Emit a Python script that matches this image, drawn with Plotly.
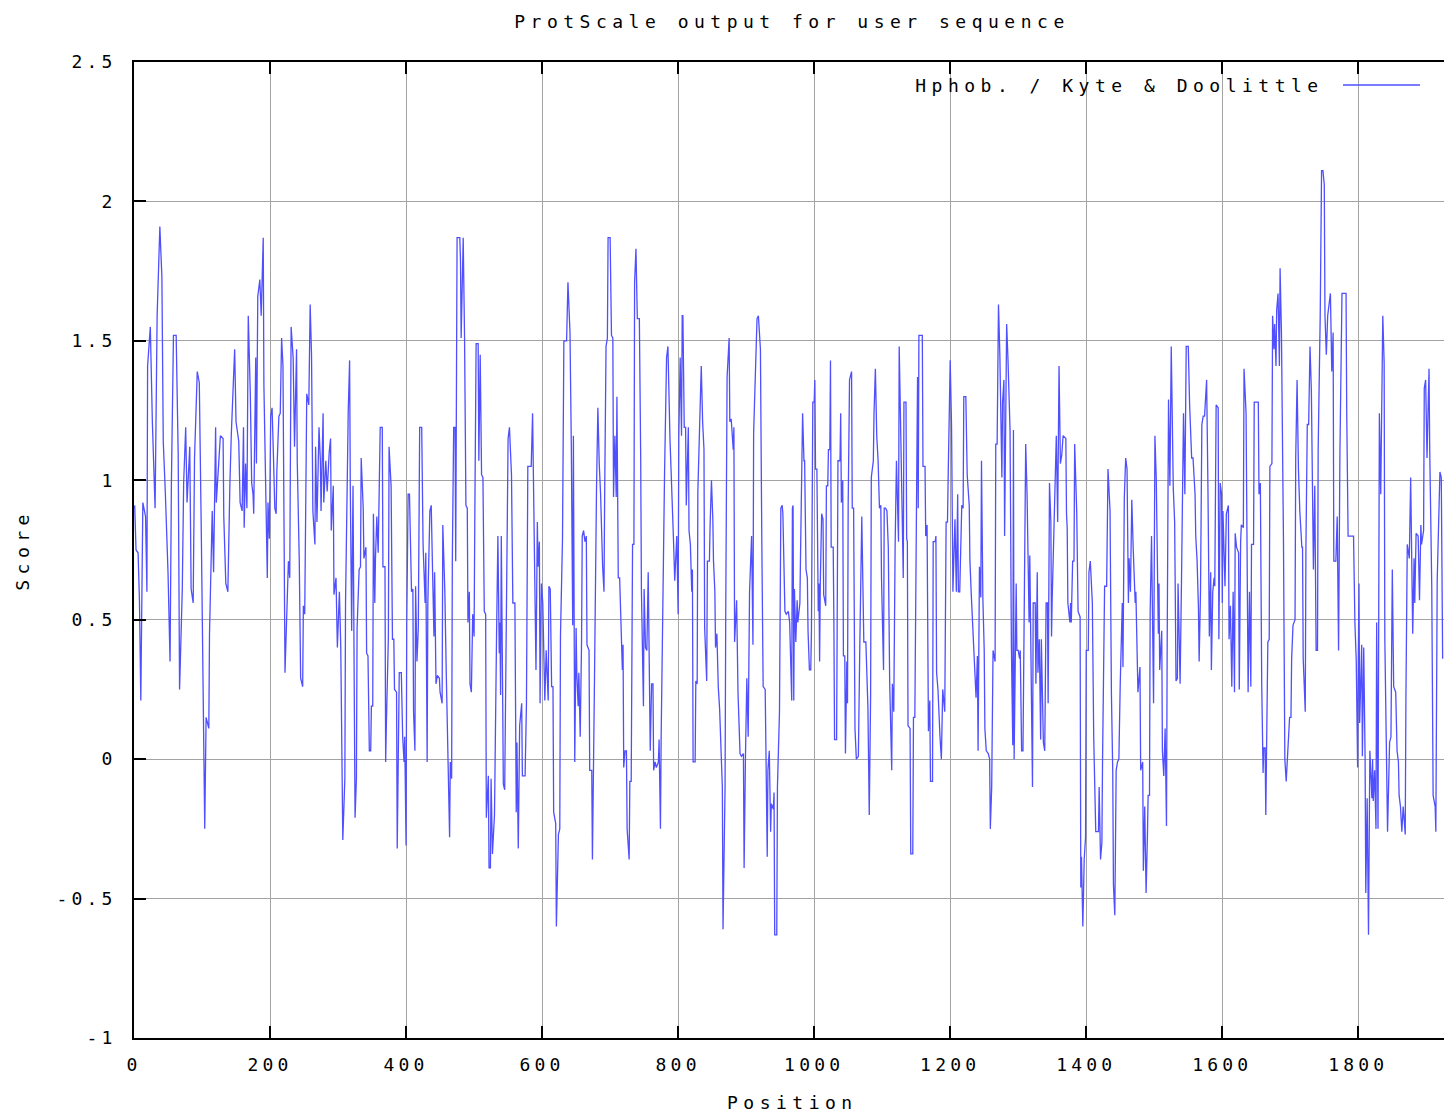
import plotly.graph_objects as go

# ---- data (position, Kyte & Doolittle score) ----
pos_a = [1,3,6,8,10,13,17,19,20,24,27,29,31,34,38,41,43,46,50,53,55,58,62,65,67,71,73,76,78,82,84,87,89,93,96,99,101,104,106,110,111,115,117,120,121,124,127,131,132,135,138,141,143,148,150,154,156,159]
val_a = [0.91,0.75,0.74,0.57,0.21,0.92,0.87,0.60,1.41,1.55,1.21,1.07,0.90,1.59,1.91,1.73,1.14,0.96,0.67,0.35,0.99,1.52,1.52,1.09,0.25,0.61,0.99,1.19,0.92,1.12,0.61,0.56,1.08,1.39,1.35,0.80,0.31,-0.25,0.15,0.11,0.45,0.89,0.67,1.19,0.92,1.03,1.16,1.15,0.87,0.63,0.60,0.99,1.16,1.47,1.21,1.14,0.92,0.89]

pos_b = [161,162,164,166,168,171,173,175,176,179,180,182,185,187,190,191,194,196,197,199,201,203,205,207,209,210,213,215,217,219,222,224,227,229,231,234,236,239,240,243,245,248,249,251,252,254,257,259,261,263,266,267,269,272,274,275,278,279,282,284,287,289,290,293,294,297,299,302,304,305,307,310,311,315,317,318,320]
val_b = [1.19,0.83,1.06,0.90,1.59,1.31,0.99,0.95,0.88,1.44,1.06,1.66,1.72,1.59,1.87,1.34,0.92,0.65,0.92,0.79,1.23,1.26,1.09,0.90,0.88,1.03,1.23,1.24,1.51,1.41,0.31,0.47,0.71,0.65,1.55,1.44,1.12,1.47,1.07,0.71,0.29,0.26,0.55,0.52,0.91,1.31,1.27,1.63,1.45,0.89,0.77,1.12,0.85,1.19,1.07,0.89,1.24,0.92,1.07,0.96,1.10,1.15,0.82,0.98,0.59,0.65,0.40,0.60,0.40,0.15,-0.29,-0.07,0.56,1.25,1.43,0.98,0.46]

pos_c = [322,325,327,328,331,333,334,337,338,341,342,344,346,348,349,351,352,354,355,357,359,360,362,365,366,369,370,371,374,375,377,378,380,382,383,386,387,388,390,393,395,397,398,400,401,403,405,408,410,411,413,414,416,418,420,423,425,428,429,431,432,435,437,439,441,442,444,446,449,450,453,454,457,459,462,464,465,467,468,470,472,473,475,479,480,481]
val_c = [0.98,-0.21,-0.07,0.47,0.68,0.69,1.08,0.90,0.72,0.76,0.38,0.37,0.03,0.03,0.19,0.19,0.88,0.56,0.72,0.87,0.74,0.87,1.19,1.19,0.69,0.69,-0.01,0.12,0.44,1.12,0.98,0.98,0.43,0.43,0.25,0.24,-0.32,-0.04,0.31,0.31,0.08,-0.01,0.08,-0.31,0.49,0.95,0.95,0.60,0.61,0.17,0.03,0.62,0.35,0.47,1.19,1.19,0.77,0.56,0.74,-0.01,0.56,0.89,0.91,0.67,0.44,0.67,0.27,0.30,0.29,0.24,0.20,0.84,0.60,0.32,-0.13,-0.28,-0.01,-0.07,0.71,1.19,1.19,0.71,1.87,1.87,1.79,1.51]

pos_d = [484,486,488,490,491,493,494,496,498,500,501,503,506,507,509,511,513,515,517,518,521,522,524,525,527,529,530,533,535,537,538,539,540,542,543,545,547,549,550,552,555,557,560,562,563,565,567,570,571,575,577,579,584,586,588,591,593,594,596,597,599,601,604,606,609,610,612,614,616,617,620,621,624,626,627,630,632,636,638,641,643,645]
val_d = [1.87,1.51,0.91,0.90,0.49,0.60,0.27,0.24,0.52,0.44,0.84,1.49,1.49,1.07,1.45,1.02,1.01,0.53,0.52,-0.21,-0.06,-0.39,-0.39,-0.07,-0.34,-0.20,-0.20,0.44,0.80,0.38,0.49,0.23,0.80,0.23,-0.09,-0.11,0.46,0.81,1.15,1.19,1.02,0.56,0.56,-0.19,0.06,-0.32,0.12,0.20,-0.06,-0.06,0.20,1.05,1.05,1.24,0.81,0.32,0.85,0.69,0.78,0.20,0.63,0.56,0.21,0.39,0.21,0.62,0.61,0.26,0.26,-0.19,-0.23,-0.60,-0.27,-0.25,0.44,0.79,1.50,1.50,1.71,1.53,1.11,0.48]

pos_e = [646,648,650,651,653,654,656,658,659,661,663,665,666,669,670,673,674,675,677,680,682,684,686,689,691,692,694,696,697,700,702,704,705,707,709,710,712,714,717,718,719,720,722,724,725,728,729,731,733,735,736,738,740,743,745,746,749,750,752,754,756,757,759,761,763,764,766,768,771,772,774,775,777,779,780,783,785,788,790,793,795,798,800,801,803,805,806]
val_e = [1.16,-0.01,0.47,0.31,0.19,0.31,0.08,0.42,0.80,0.82,0.78,0.80,0.41,0.39,-0.04,-0.04,-0.36,-0.18,0.28,0.97,1.26,1.06,0.95,0.69,0.60,0.95,1.48,1.51,1.87,1.87,1.52,1.51,0.94,1.16,0.94,1.30,0.65,0.65,0.41,0.32,0.41,-0.03,0.03,0.03,-0.25,-0.36,-0.08,-0.08,0.77,0.77,1.71,1.83,1.58,1.58,1.07,0.61,0.19,0.61,0.40,0.39,0.67,0.46,0.03,0.27,0.27,-0.04,-0.01,-0.03,-0.01,0.07,-0.25,0.07,0.50,1.01,1.02,1.44,1.48,1.15,1.03,0.80,0.64,0.80,0.52,1.16,1.44,1.16,1.59]

pos_f = [807,809,811,812,815,816,818,820,821,822,825,826,828,829,832,834,836,838,839,842,843,846,847,849,851,852,854,855,857,859,861,864,865,866,869,870,872,875,876,878,881,882,883,886,888,891,893,896,897,899,901,903,905,908,910,911,914,916,918,919,921,923,925,928,929,931,932,934,936,937,940,941,942,945,946,949,951,953,954,957,959,962,964,967,968]
val_f = [1.59,1.19,1.19,0.91,1.19,0.82,0.77,0.60,0.68,-0.01,-0.01,0.28,0.27,0.96,1.25,1.41,1.21,1.11,0.47,0.28,0.71,0.71,0.84,1.00,0.86,0.71,0.60,0.40,0.45,0.26,0.18,-0.10,-0.10,-0.61,-0.10,0.53,1.37,1.51,1.21,1.22,1.11,1.19,0.42,0.57,0.24,0.02,0.01,0.02,-0.39,0.01,0.29,0.08,0.60,0.80,0.41,1.17,1.46,1.58,1.59,1.54,1.47,0.79,0.26,0.25,-0.03,-0.35,-0.04,0.03,-0.26,-0.16,-0.18,-0.12,-0.63,-0.63,-0.10,0.17,0.90,0.91,0.88,0.53,0.52,0.53,0.49,0.21,0.90]

pos_g = [969,970,971,973,975,976,979,980,983,985,986,988,990,991,993,995,996,998,1000,1001,1002,1004,1006,1007,1008,1009,1011,1013,1014,1017,1018,1020,1021,1023,1024,1025,1028,1029,1030,1033,1034,1035,1038,1039,1040,1042,1043,1045,1046,1048,1049,1050,1052,1055,1056,1058,1060,1062,1065,1066,1067,1070,1072,1073,1076,1078,1079,1081,1083,1084,1087,1088,1090,1092,1094,1096,1098,1099,1101,1102,1103,1105,1107,1109,1111,1114,1115,1117,1119,1121,1124,1125,1127,1128,1130]
val_g = [0.91,0.21,0.61,0.42,0.57,0.49,0.56,0.74,1.24,1.07,1.07,0.68,0.65,0.46,0.32,0.32,0.46,1.28,1.28,1.36,1.04,1.04,0.53,0.63,0.35,0.63,0.88,0.86,0.59,0.55,0.98,0.98,1.11,1.11,1.43,0.76,0.76,0.49,0.07,0.07,0.49,1.07,1.07,1.24,0.92,1.00,0.37,0.37,0.02,0.35,0.20,0.91,1.36,1.39,0.90,0.90,0.11,0.00,0.01,0.35,0.39,0.87,0.60,0.42,0.42,0.19,0.19,-0.20,0.23,1.01,1.07,1.24,1.40,1.16,1.07,0.90,0.91,0.65,0.45,0.32,0.90,0.90,0.89,0.76,0.28,-0.04,0.27,0.17,0.76,1.07,0.78,1.48,1.21,1.07,0.65]

pos_h = [1131,1132,1135,1136,1137,1138,1141,1142,1145,1146,1148,1150,1152,1153,1154,1159,1160,1163,1164,1166,1168,1170,1171,1174,1175,1178,1179,1180,1182,1185,1187,1189,1192,1194,1196,1197,1200,1202,1204,1207,1209,1211,1212,1214,1217,1219,1220,1223,1225,1228,1229,1231,1235,1238,1240,1241,1243,1245,1246,1248,1250,1251,1253,1256,1258,1259,1261,1263,1266,1267,1269,1271,1273,1276,1277,1279,1280,1283,1285,1288,1290,1292]
val_h = [0.65,1.28,1.28,0.79,0.78,0.12,0.11,-0.34,-0.34,0.15,0.15,0.77,1.37,0.90,1.52,1.52,1.05,1.05,0.80,0.84,0.10,0.21,-0.08,-0.08,0.78,0.78,0.80,0.31,0.25,0.08,0.00,0.25,0.17,0.85,0.85,1.01,1.43,1.19,0.60,0.86,0.60,0.95,0.60,0.60,0.91,0.90,1.30,1.30,1.02,0.91,0.71,0.59,0.35,0.22,0.37,0.03,0.69,0.58,1.07,0.58,0.39,0.11,0.03,0.02,0.00,-0.25,-0.10,0.39,0.35,1.13,1.13,1.63,1.45,1.01,1.28,1.36,0.80,1.56,1.43,1.18,0.40,0.05]

pos_i = [1293,1294,1297,1298,1300,1302,1303,1305,1307,1310,1311,1313,1315,1316,1317,1320,1321,1322,1325,1326,1328,1329,1331,1333,1334,1337,1339,1341,1343,1344,1346,1348,1349,1350,1352,1354,1356,1358,1360,1362,1364,1366,1370,1371,1372,1373,1376,1377,1378,1380,1382,1383,1386,1388,1391,1392,1393,1395,1397,1399,1400,1403,1404,1406,1408,1409,1411,1414,1418,1419,1421,1423,1424,1426,1427,1430,1432,1435,1437,1439,1440,1442,1444,1446,1448,1450,1453]
val_i = [1.18,0.00,0.63,0.39,0.39,0.36,0.39,0.03,0.03,0.76,1.13,0.95,0.50,0.49,0.73,0.01,-0.10,0.56,0.56,0.27,0.67,0.31,0.43,0.07,0.43,0.06,0.03,0.56,0.56,0.20,0.99,0.85,0.44,0.58,0.80,1.02,1.16,0.85,1.41,1.06,1.09,1.16,1.15,0.88,0.83,0.56,0.49,0.56,0.49,0.71,0.71,1.13,0.89,0.53,0.51,-0.46,-0.35,-0.60,-0.36,-0.28,0.39,0.39,0.67,0.71,0.56,0.56,0.08,-0.26,-0.26,-0.10,-0.36,-0.30,0.00,0.35,0.62,0.62,1.04,0.89,0.24,-0.05,-0.45,-0.56,-0.04,-0.01,0.00,0.27,0.56]

pos_j = [1454,1456,1458,1460,1462,1463,1465,1467,1469,1472,1473,1475,1476,1479,1480,1483,1484,1486,1488,1490,1491,1493,1494,1496,1499,1501,1503,1506,1507,1508,1511,1512,1514,1516,1518,1519,1521,1523,1525,1528,1530,1532,1534,1535,1538,1540,1543,1545,1547,1550,1552,1555,1557,1560,1561,1563,1565,1566,1568,1570,1572,1574,1577,1579,1581,1583,1584,1586,1588,1589,1591,1594,1595,1597,1599,1600,1601,1604,1606,1609,1610,1612,1614]
val_j = [0.33,0.94,1.08,1.04,0.56,0.72,0.60,0.93,0.76,0.56,0.60,0.42,0.24,0.33,-0.04,-0.01,-0.40,-0.17,-0.48,-0.27,-0.13,-0.13,0.53,0.80,0.20,1.16,1.00,0.45,0.63,0.32,0.46,0.03,-0.06,0.11,-0.24,0.40,1.29,0.98,1.48,0.97,0.85,0.28,0.29,0.63,0.27,0.63,1.24,0.95,1.48,1.48,1.27,1.08,1.08,0.95,0.80,0.71,0.54,0.35,0.60,1.20,1.23,1.23,1.36,0.96,0.44,0.67,0.32,0.60,0.65,0.62,1.27,1.26,0.43,0.99,0.95,0.56,0.89,0.62,0.88,0.91,0.43,0.55,0.26]

pos_k = [1616,1618,1619,1621,1624,1625,1627,1628,1631,1632,1635,1637,1638,1640,1642,1643,1646,1647,1653,1654,1656,1658,1660,1661,1663,1664,1665,1667,1669,1670,1673,1674,1676,1677,1679,1680,1682,1684,1685,1687,1690,1692,1694,1696,1699,1701,1702,1704,1707,1708,1710,1712,1714,1717,1718,1719,1722,1723,1725,1727,1729,1731,1734,1736,1738,1740,1741,1744,1746,1748,1750,1751,1753,1755,1757,1759,1761,1763,1764,1767,1769,1771,1773,1776]
val_k = [0.60,0.24,0.81,0.76,0.74,0.25,0.78,0.84,0.83,1.40,1.24,0.44,0.24,0.60,0.26,0.77,0.77,1.28,1.28,0.95,0.99,0.27,-0.05,0.04,0.04,-0.20,0.00,0.42,0.43,1.05,1.06,1.59,1.47,1.56,1.41,1.61,1.67,1.41,1.76,1.53,0.78,0.00,-0.08,0.00,0.15,0.15,0.36,0.48,0.50,1.08,1.36,1.04,0.89,0.76,0.76,0.36,0.17,0.76,1.20,1.20,1.48,1.32,0.68,0.98,0.39,0.39,1.11,1.59,2.11,2.11,2.06,1.59,1.45,1.59,1.63,1.67,1.39,1.53,0.71,0.71,0.87,0.39,1.10,1.67]

pos_l = [1778,1782,1783,1784,1785,1793,1794,1795,1797,1799,1800,1801,1802,1805,1806,1808,1810,1811,1813,1815,1817,1820,1821,1822,1824,1826,1827,1829,1831,1833,1836,1838,1839,1841,1843,1846,1848,1850,1852,1855,1857,1859,1860,1862,1864,1866,1869,1870,1872,1875,1877,1880,1882,1883,1885,1888,1890,1892,1893,1896,1897,1899,1901,1904,1905,1908,1910,1913,1914,1916,1920,1922,1924]
val_l = [1.67,1.67,1.24,0.99,0.80,0.80,0.54,0.49,0.35,-0.03,0.35,0.63,0.13,0.41,0.01,0.40,0.00,-0.48,-0.14,-0.63,0.03,-0.14,0.00,-0.15,-0.04,-0.25,0.49,-0.25,1.24,0.95,1.59,1.42,0.43,0.08,-0.26,0.06,0.08,0.68,0.26,0.24,0.03,-0.01,-0.13,-0.17,-0.26,-0.17,-0.27,0.22,0.77,0.72,1.01,0.45,0.72,0.56,0.81,0.80,0.57,0.84,0.77,0.82,1.33,1.36,1.08,1.40,1.11,0.62,-0.13,-0.17,-0.26,0.64,1.03,1.01,0.36]

x_ticks = [0, 200, 400, 600, 800, 1000, 1200, 1400, 1600, 1800]
x_labels = ["0", "200", "400", "600", "800", "1000", "1200", "1400", "1600", "1800"]
y_ticks = [-1, -0.5, 0, 0.5, 1, 1.5, 2, 2.5]
y_labels = ["-1", "-0.5", "0", "0.5", "1", "1.5", "2", "2.5"]

title_text = "ProtScale output for user sequence"
series_name = "Hphob. / Kyte & Doolittle"

# ---- assemble ----
pos_parts = [pos_a, pos_b, pos_c, pos_d, pos_e, pos_f, pos_g, pos_h, pos_i, pos_j, pos_k, pos_l]
val_parts = [val_a, val_b, val_c, val_d, val_e, val_f, val_g, val_h, val_i, val_j, val_k, val_l]
position, score = [], []
for p, v in zip(pos_parts, val_parts):
    assert len(p) == len(v), (len(p), len(v), p[0])
    position += p
    score += v

BLUE = "#4f4fff"
FONT = "DejaVu Sans Mono"
FS = 18

fig = go.Figure()
fig.add_trace(go.Scatter(x=position, y=score, mode="lines", name=series_name,
                         line=dict(color=BLUE, width=1.3), showlegend=False))

W, H = 1444, 1115
L, R, T, B = 134, 0, 62, 77
pw, ph = W - L - R, H - T - B

def px_x(px):
    return (px - L) / pw

def px_y(py):
    return (H - B - py) / ph

fig.update_layout(
    width=W, height=H,
    margin=dict(l=L, r=R, t=T, b=B),
    paper_bgcolor="white", plot_bgcolor="white",
    font=dict(family=FONT, size=FS, color="black"),
    title=dict(text=title_text, x=792 / W, xref="container", xanchor="center",
               y=1 - 22 / H, yref="container", yanchor="middle",
               font=dict(family=FONT, size=FS, color="black")),
    xaxis=dict(range=[0, 1926], tickvals=x_ticks, ticktext=x_labels,
               ticks="inside", ticklen=12, tickwidth=1.5, tickcolor="black",
               showline=True, linecolor="black", linewidth=1.5, mirror="allticks",
               showgrid=True, gridcolor="#a3a3a3", gridwidth=1.3, zeroline=False,
               ticklabelstandoff=10, tickfont=dict(family=FONT, size=FS)),
    yaxis=dict(range=[-1, 2.5], tickvals=y_ticks, ticktext=y_labels,
               ticks="inside", ticklen=12, tickwidth=1.5, tickcolor="black",
               showline=True, linecolor="black", linewidth=1.5, mirror=False,
               showgrid=True, gridcolor="#a3a3a3", gridwidth=1.3, zeroline=False,
               ticklabelstandoff=12, tickfont=dict(family=FONT, size=FS)),
    annotations=[
        dict(text=series_name, xref="paper", yref="paper", x=px_x(1119), y=px_y(85),
             xanchor="center", yanchor="middle", showarrow=False,
             font=dict(family=FONT, size=FS, color="black")),
        dict(text="Position", xref="paper", yref="paper", x=px_x(792), y=px_y(1102),
             xanchor="center", yanchor="middle", showarrow=False,
             font=dict(family=FONT, size=FS, color="black")),
        dict(text="Score", xref="paper", yref="paper", x=px_x(22), y=px_y(550),
             xanchor="center", yanchor="middle", showarrow=False, textangle=-90,
             font=dict(family=FONT, size=FS, color="black")),
    ],
    shapes=[dict(type="line", xref="paper", yref="paper",
                 x0=px_x(1343), x1=px_x(1420), y0=px_y(85), y1=px_y(85),
                 line=dict(color=BLUE, width=1.3))],
)

js = """
var gd = document.getElementById('{plot_id}');
gd.querySelectorAll('text').forEach(function(t){ t.style.letterSpacing = '5.5px'; });
gd.querySelectorAll('.xtick text, .ytick text').forEach(function(t){ t.style.letterSpacing = '4.2px'; });
"""
fig.write_html("out.html", post_script=js)
